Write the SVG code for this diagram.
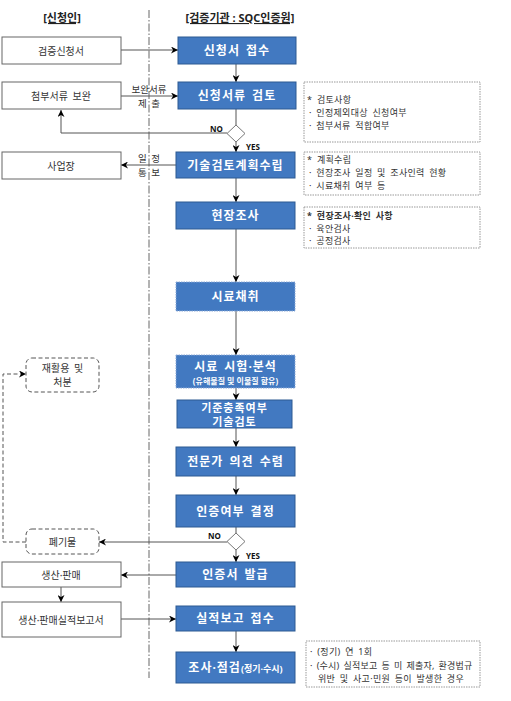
<svg xmlns="http://www.w3.org/2000/svg" width="511" height="701" viewBox="0 0 511 701">
<defs>
<style>
.lbox{fill:#fff;stroke:#666;stroke-width:1}
.bbox{fill:#4279C1;stroke:#2C5A92;stroke-width:1}
.bdot{fill:#4279C1;stroke:#8AA9D6;stroke-width:1;stroke-dasharray:1.5 1}
.dbox{fill:#fff;stroke:#555;stroke-width:1;stroke-dasharray:4 2.5}
.note{fill:#fff;stroke:#999;stroke-width:1;stroke-dasharray:1.5 1}
.dia{fill:#fff;stroke:#777;stroke-width:1}
text{font-family:"Noto Sans","Noto Sans CJK KR",sans-serif}
.lt{font-size:10px;fill:#333;text-anchor:middle;dominant-baseline:central;word-spacing:2px}
.bt{font-size:12px;fill:#fff;font-weight:bold;text-anchor:middle;dominant-baseline:central;letter-spacing:1px;word-spacing:2px}
.st{font-size:8px;fill:#fff;font-weight:bold;text-anchor:middle;dominant-baseline:central}
.nt{font-size:9px;fill:#333;dominant-baseline:central;letter-spacing:0.3px;word-spacing:2px}
.yn{font-size:8px;fill:#111;font-weight:bold;dominant-baseline:central}
.hd{font-size:11px;fill:#222;font-weight:bold;text-anchor:middle;text-decoration:underline}
.cl{fill:none;stroke:#555;stroke-width:1}
.cd{fill:none;stroke:#555;stroke-width:1;stroke-dasharray:4 2.5}
</style>
<marker id="ah" viewBox="0 0 10 10" refX="10" refY="5" markerWidth="7" markerHeight="7" markerUnits="userSpaceOnUse" orient="auto">
<path d="M0,0 L10,5 L0,10 L3,5 z" fill="#000"/>
</marker>
</defs>
<rect width="511" height="701" fill="#fff"/>

<g id="headers">
<text class="hd" x="62" y="22">[신청인]</text>
<text class="hd" x="240" y="22">[검증기관 : SQC인증원]</text>
<line x1="149" y1="10" x2="149" y2="678" stroke="#666" stroke-width="1" stroke-dasharray="8 2 1.5 2"/>
</g>

<g id="connectors">
<line class="cl" x1="121" y1="50" x2="178" y2="50" marker-end="url(#ah)"/>
<line class="cl" x1="236" y1="64" x2="236" y2="82" marker-end="url(#ah)"/>
<line class="cl" x1="121" y1="96" x2="178" y2="96" marker-end="url(#ah)"/>
<text class="lt" x="149" y="89" style="font-size:9.5px">보완서류</text>
<text class="lt" x="149" y="103" style="font-size:9.5px">제 출</text>
<line class="cl" x1="236" y1="109" x2="236" y2="125"/>
<polyline class="cl" points="227,133 61,133 61,110" marker-end="url(#ah)"/>
<text class="yn" x="210" y="128">NO</text>
<line class="cl" x1="236" y1="142" x2="236" y2="152" marker-end="url(#ah)"/>
<text class="yn" x="246" y="146">YES</text>
<line class="cl" x1="176" y1="165" x2="121" y2="165" marker-end="url(#ah)"/>
<text class="lt" x="149" y="158" style="font-size:9.5px">일 정</text>
<text class="lt" x="149" y="172" style="font-size:9.5px">통 보</text>
<line class="cl" x1="236" y1="178" x2="236" y2="202" marker-end="url(#ah)"/>
<line class="cl" x1="236" y1="229" x2="236" y2="282" marker-end="url(#ah)"/>
<line class="cl" x1="236" y1="311" x2="236" y2="355" marker-end="url(#ah)"/>
<line class="cl" x1="236" y1="388" x2="236" y2="400" marker-end="url(#ah)"/>
<line class="cl" x1="236" y1="428" x2="236" y2="447" marker-end="url(#ah)"/>
<line class="cl" x1="236" y1="476" x2="236" y2="495" marker-end="url(#ah)"/>
<line class="cl" x1="236" y1="527" x2="236" y2="533"/>
<line class="cl" x1="227" y1="542" x2="99" y2="542" marker-end="url(#ah)"/>
<text class="yn" x="208" y="535">NO</text>
<polyline class="cd" points="26,542 3,542 3,374 26,374" marker-end="url(#ah)"/>
<line class="cl" x1="236" y1="550" x2="236" y2="562" marker-end="url(#ah)"/>
<text class="yn" x="246" y="555">YES</text>
<line class="cl" x1="176" y1="575" x2="121" y2="575" marker-end="url(#ah)"/>
<line class="cl" x1="61" y1="587" x2="61" y2="602" marker-end="url(#ah)"/>
<line class="cl" x1="121" y1="619" x2="176" y2="619" marker-end="url(#ah)"/>
<line class="cl" x1="236" y1="631" x2="236" y2="652" marker-end="url(#ah)"/>
</g>

<g id="n-apply"><rect class="lbox" x="2" y="37" width="119" height="27"/><text class="lt" x="61" y="50.5">검증신청서</text></g>
<g id="n-supplement"><rect class="lbox" x="2" y="82" width="119" height="27"/><text class="lt" x="61" y="95.5">첨부서류 보완</text></g>
<g id="n-site"><rect class="lbox" x="2" y="152" width="119" height="27"/><text class="lt" x="61" y="165.5">사업장</text></g>
<g id="n-recycle"><rect class="dbox" x="26" y="358" width="73" height="34" rx="6"/><text class="lt" x="62.5" y="368">재활용 및</text><text class="lt" x="62.5" y="382">처분</text></g>
<g id="n-waste"><rect class="dbox" x="26" y="529" width="73" height="25" rx="6"/><text class="lt" x="62.5" y="541.5">폐기물</text></g>
<g id="n-sales"><rect class="lbox" x="2" y="562" width="119" height="25"/><text class="lt" x="61" y="574.5">생산·판매</text></g>
<g id="n-report"><rect class="lbox" x="2" y="602" width="119" height="35"/><text class="lt" x="61" y="619.5">생산·판매실적보고서</text></g>

<g id="b-receive"><rect class="bbox" x="178" y="37" width="118" height="27"/><text class="bt" x="237" y="50.5">신청서 접수</text></g>
<g id="b-review"><rect class="bbox" x="178" y="82" width="118" height="27"/><text class="bt" x="237" y="95.5">신청서류 검토</text></g>
<g id="d-1"><polygon class="dia" points="236,125 245,133.5 236,142 227,133.5"/></g>
<g id="b-plan"><rect class="bbox" x="176" y="152" width="119" height="26"/><text class="bt" x="235.5" y="165">기술검토계획수립</text></g>
<g id="b-survey"><rect class="bbox" x="176" y="202" width="119" height="27"/><text class="bt" x="235.5" y="215.5">현장조사</text></g>
<g id="b-sample"><rect class="bdot" x="176" y="282" width="119" height="29"/><text class="bt" x="235.5" y="296.5">시료채취</text></g>
<g id="b-test"><rect class="bdot" x="176" y="355" width="119" height="33"/><text class="bt" x="235.5" y="366">시료 시험·분석</text><text class="st" x="235.5" y="380">(유해물질 및 이물질 함유)</text></g>
<g id="b-criteria"><rect class="bbox" x="177" y="400" width="115" height="28"/><text class="bt" x="234.5" y="407.5" style="font-size:11px">기준충족여부</text><text class="bt" x="234.5" y="421" style="font-size:11px">기술검토</text></g>
<g id="b-expert"><rect class="bbox" x="176" y="447" width="119" height="29"/><text class="bt" x="235.5" y="461.5">전문가 의견 수렴</text></g>
<g id="b-decide"><rect class="bbox" x="176" y="495" width="119" height="32"/><text class="bt" x="235.5" y="511">인증여부 결정</text></g>
<g id="d-2"><polygon class="dia" points="236,533 245,541.5 236,550 227,541.5"/></g>
<g id="b-issue"><rect class="bbox" x="176" y="562" width="119" height="25"/><text class="bt" x="235.5" y="574.5">인증서 발급</text></g>
<g id="b-reportrecv"><rect class="bbox" x="176" y="606" width="119" height="25"/><text class="bt" x="235.5" y="618.5">실적보고 접수</text></g>
<g id="b-inspect"><rect class="bbox" x="176" y="652" width="119" height="31"/><text class="bt" x="235.5" y="667.5">조사·점검<tspan style="font-size:9px;letter-spacing:0">(정기·수시)</tspan></text></g>

<g id="note-1"><rect class="note" x="304" y="82" width="176" height="60"/>
<text class="nt" x="307" y="99">* 검토사항</text>
<text class="nt" x="309" y="112">· 인정제외대상 신청여부</text>
<text class="nt" x="309" y="125">· 첨부서류 적합여부</text></g>
<g id="note-2"><rect class="note" x="304" y="152" width="176" height="43"/>
<text class="nt" x="307" y="159">* 계획수립</text>
<text class="nt" x="309" y="172">· 현장조사 일정 및 조사인력 현황</text>
<text class="nt" x="309" y="185">· 시료채취 여부 등</text></g>
<g id="note-3"><rect class="note" x="304" y="207" width="176" height="41"/>
<text class="nt" x="307" y="215" font-weight="bold">* 현장조사·확인 사항</text>
<text class="nt" x="309" y="228">· 육안검사</text>
<text class="nt" x="309" y="240.5">· 공정검사</text></g>
<g id="note-4"><rect class="note" x="306" y="641" width="174" height="46"/>
<text class="nt" x="310" y="651">· (정기) 연 1회</text>
<text class="nt" x="310" y="665" style="word-spacing:1.5px;letter-spacing:0.2px">· (수시) 실적보고 등 미 제출자, 환경법규</text>
<text class="nt" x="318" y="678" style="word-spacing:2px">위반 및 사고·민원 등이 발생한 경우</text></g>
</svg>
